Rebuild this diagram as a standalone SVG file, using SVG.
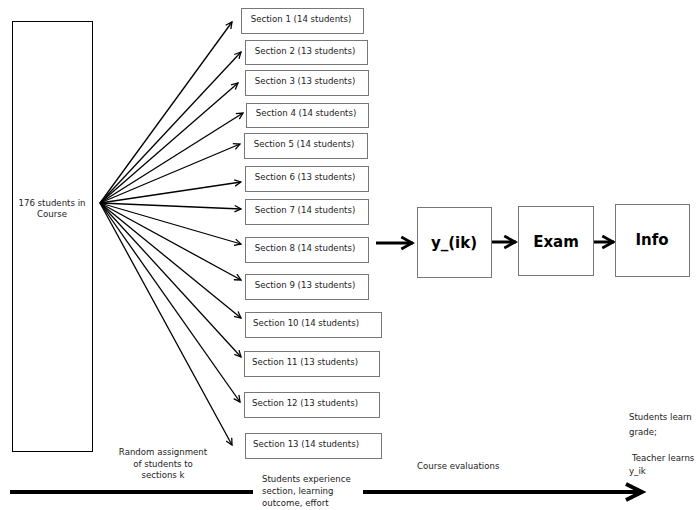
<svg xmlns="http://www.w3.org/2000/svg" width="696" height="510" viewBox="0 0 696 510">
<defs>
<style>
.box{fill:#fff;stroke:#000;stroke-width:1}
.sbox{fill:#fff;stroke:#777;stroke-width:1}
.t{font-family:"DejaVu Sans",Verdana,sans-serif;font-size:8.6px;fill:#222}
.c{text-anchor:middle}
.b{font-family:"DejaVu Sans",Verdana,sans-serif;font-size:15px;font-weight:bold;fill:#000;text-anchor:middle}
.fan{stroke:#000;stroke-width:1.3;fill:none;marker-end:url(#ah)}
.thick{stroke:#000;stroke-width:3;fill:none;marker-end:url(#th)}
</style>
<marker id="ah" viewBox="0 0 10 10" refX="9" refY="5" markerWidth="8" markerHeight="8" markerUnits="userSpaceOnUse" orient="auto">
<path d="M1,1 L9,5 L1,9" fill="none" stroke="#000" stroke-width="1.6"/>
</marker>
<marker id="th" viewBox="0 0 10 10" refX="9" refY="5" markerWidth="5.2" markerHeight="5.2" orient="auto">
<path d="M1.5,1.2 L8.5,5 L1.5,8.8" fill="none" stroke="#000" stroke-width="1.8"/>
</marker>
</defs>
<rect width="696" height="510" fill="#fff"/>

<g id="course">
<rect class="box" x="12.5" y="21.5" width="80" height="430"/>
<text class="t c" x="52" y="206">176 students in</text>
<text class="t c" x="52" y="217">Course</text>
</g>

<g id="connectors">
<line class="fan" x1="100" y1="203" x2="232" y2="22"/>
<line class="fan" x1="100" y1="203" x2="241" y2="52"/>
<line class="fan" x1="100" y1="203" x2="238" y2="83"/>
<line class="fan" x1="100" y1="203" x2="243" y2="113"/>
<line class="fan" x1="100" y1="203" x2="240" y2="144"/>
<line class="fan" x1="100" y1="203" x2="241" y2="182"/>
<line class="fan" x1="100" y1="203" x2="241" y2="209"/>
<line class="fan" x1="100" y1="203" x2="241" y2="244"/>
<line class="fan" x1="100" y1="203" x2="241" y2="280"/>
<line class="fan" x1="100" y1="203" x2="241" y2="318"/>
<line class="fan" x1="100" y1="203" x2="241" y2="357"/>
<line class="fan" x1="100" y1="203" x2="240" y2="402"/>
<line class="fan" x1="100" y1="203" x2="232" y2="445"/>
<line class="thick" x1="376" y1="243" x2="413" y2="243"/>
<line class="thick" x1="492" y1="242" x2="516" y2="242"/>
<line class="thick" x1="594" y1="242" x2="614" y2="242"/>
<line x1="10" y1="492" x2="253" y2="492" stroke="#000" stroke-width="4"/>
<line x1="363" y1="492" x2="640" y2="492" stroke="#000" stroke-width="4"/>
<path d="M626,484 L642,492 L626,500" fill="none" stroke="#000" stroke-width="4"/>
</g>

<g id="s1"><rect class="sbox" x="241.5" y="8.5" width="122" height="25"/><text class="t c" x="301" y="21.5">Section 1 (14 students)</text></g>
<g id="s2"><rect class="sbox" x="245.5" y="40.5" width="122" height="24"/><text class="t c" x="305" y="53.5">Section 2 (13 students)</text></g>
<g id="s3"><rect class="sbox" x="245.5" y="70.5" width="123" height="25"/><text class="t c" x="305" y="83.5">Section 3 (13 students)</text></g>
<g id="s4"><rect class="sbox" x="246.5" y="103.5" width="122" height="24"/><text class="t c" x="306" y="116">Section 4 (14 students)</text></g>
<g id="s5"><rect class="sbox" x="244.5" y="133.5" width="123" height="25"/><text class="t c" x="304" y="146.5">Section 5 (14 students)</text></g>
<g id="s6"><rect class="sbox" x="245.5" y="166.5" width="123" height="25"/><text class="t c" x="305" y="179.5">Section 6 (13 students)</text></g>
<g id="s7"><rect class="sbox" x="245.5" y="199.5" width="123" height="25"/><text class="t c" x="305" y="212.5">Section 7 (14 students)</text></g>
<g id="s8"><rect class="sbox" x="245.5" y="237.5" width="123" height="25"/><text class="t c" x="305" y="250.5">Section 8 (14 students)</text></g>
<g id="s9"><rect class="sbox" x="245.5" y="274.5" width="123" height="25"/><text class="t c" x="305" y="287.5">Section 9 (13 students)</text></g>
<g id="s10"><rect class="sbox" x="245.5" y="312.5" width="136" height="25"/><text class="t c" x="306" y="325.5">Section 10 (14 students)</text></g>
<g id="s11"><rect class="sbox" x="244.5" y="351.5" width="135" height="25"/><text class="t c" x="305" y="364.5">Section 11 (13 students)</text></g>
<g id="s12"><rect class="sbox" x="244.5" y="392.5" width="135" height="25"/><text class="t c" x="305" y="405.5">Section 12 (13 students)</text></g>
<g id="s13"><rect class="sbox" x="245.5" y="433.5" width="136" height="25"/><text class="t c" x="306" y="446.5">Section 13 (14 students)</text></g>

<g id="yik"><rect class="sbox" x="417.5" y="207.5" width="74" height="70"/><text class="b" x="454" y="248">y_(ik)</text></g>
<g id="exam"><rect class="sbox" x="518.5" y="206.5" width="75" height="69"/><text class="b" x="556" y="247">Exam</text></g>
<g id="info"><rect class="sbox" x="615.5" y="204.5" width="74" height="72"/><text class="b" x="652" y="245">Info</text></g>

<g id="labels">
<text class="t c" x="163" y="455">Random assignment</text>
<text class="t c" x="163" y="467">of students to</text>
<text class="t c" x="163" y="478">sections k</text>
<text class="t" x="262" y="482">Students experience</text>
<text class="t" x="262" y="494">section, learning</text>
<text class="t" x="262" y="506">outcome, effort</text>
<text class="t" x="417" y="469">Course evaluations</text>
<text class="t" x="629" y="420">Students learn</text>
<text class="t" x="629" y="435">grade;</text>
<text class="t" x="632" y="461">Teacher learns</text>
<text class="t" x="629" y="474">y_ik</text>
</g>
</svg>
